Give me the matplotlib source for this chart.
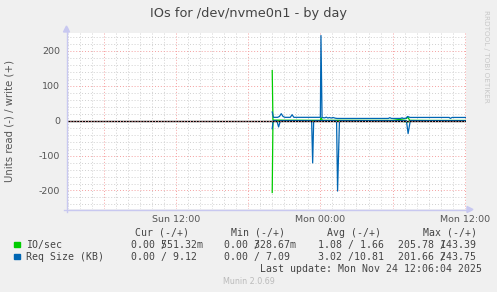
import matplotlib
matplotlib.use('Agg')
import matplotlib.pyplot as plt
from matplotlib.patches import Rectangle, Polygon
from matplotlib.lines import Line2D

W, H = 497, 292

title = "IOs for /dev/nvme0n1 - by day"
ylabel = "Units read (-) / write (+)"
xtick_pos = [-12, 0, 12]
xtick_labels = ["Sun 12:00", "Mon 00:00", "Mon 12:00"]
ytick_pos = [-200, -100, 0, 100, 200]
ytick_labels = ["-200", "-100", "0", "100", "200"]

# time in hours relative to Mon 00:00
io_t = [-4.00, -3.94, -3.85, -3.5, -3.0, -2.0, -1.0, 0.0, 0.06, 0.16, 1.0,
        2.0, 4.0, 6.0, 7.15, 7.27, 7.42, 9.0, 11.0, 12.1]
io_write = [143.39, 2.0, 1.5, 1.5, 1.2, 1.2, 1.0, 1.0, 9.0, 1.0, 1.0,
            1.0, 0.8, 0.8, 6.0, 10.0, 1.0, 0.6, 0.6, 0.55]
io_read = [205.78, 3.0, 1.0, 1.0, 0.5, 0.5, 0.3, 0.3, 2.0, 0.3, 0.3,
           0.2, 0.1, 0.1, 3.0, 4.0, 0.1, 0.0, 0.0, 0.0]

rs_write_t = [-4.00, -3.90, -3.55, -3.40, -3.25, -3.10, -2.95, -2.50, -2.35,
              -2.20, -0.60, 0.00, 0.05, 0.14, 0.35, 0.50, 0.62, 0.75, 0.90,
              1.05, 1.25, 1.40, 5.65, 5.77, 5.90, 6.65, 6.79, 6.92, 7.10,
              7.25, 7.45, 10.7, 10.8, 10.95, 12.1]
rs_write = [24.8, 9.5, 9.5, 12.0, 20.0, 12.0, 9.5, 9.5, 17.0,
            9.5, 9.5, 9.5, 243.75, 9.0, 8.0, 10.0, 7.5, 9.0, 7.5,
            9.0, 7.0, 6.3, 6.3, 8.5, 6.3, 6.3, 8.0, 6.3, 7.0,
            12.0, 9.2, 9.2, 6.5, 9.2, 9.12]
rs_read_t = [-4.00, -3.92, -3.62, -3.47, -3.32, -0.73, -0.72, -0.64, -0.56,
             -0.55, 1.34, 1.35, 1.43, 1.58, 1.59, 7.15, 7.29, 7.47, 12.1]
rs_read = [23.0, 0.0, 0.0, 18.0, 0.0, 0.0, 8.0, 121.0, 8.0,
           0.0, 0.0, 8.0, 201.66, 8.0, 0.0, 0.0, 37.0, 0.0, 0.0]

legend_names = ["IO/sec", "Req Size (KB)"]
legend_colors = ["#00CC00", "#0066B3"]
col_headers = ["Cur (-/+)", "Min (-/+)", "Avg (-/+)", "Max (-/+)"]
row_io = [("0.00 /", "     551.32m"), ("0.00 /", "     328.67m"),
          ("1.08 / 1.66", ""), ("205.78 /", "       143.39")]
row_rs = [("0.00 / 9.12", ""), ("0.00 / 7.09", ""),
          ("3.02 /10.81", ""), ("201.66 /", "       243.75")]
last_update = "Last update: Mon Nov 24 12:06:04 2025"
munin_ver = "Munin 2.0.69"
rrd_credit = "RRDTOOL / TOBI OETIKER"


def fx(x):
    return x / W


def fy(y):
    return 1 - y / H


fig = plt.figure(figsize=(W / 100, H / 100), dpi=100, facecolor="#F0F0F0")
L, R, T, B = 67, 466, 33, 209
ax = fig.add_axes([fx(L), fy(B), (R - L) / W, (B - T) / H])
ax.set_facecolor("white")
ax.set_xlim(-21.05, 12.1)
ax.set_ylim(-253, 251)

# grid
grey = "#D0D0D0"
red = "#F5A0A0"
dot = (0, (1, 2))
for h in range(-21, 13):
    if h % 6 != 0:
        ax.axvline(h, color=grey, lw=0.7, ls=dot, zorder=1)
for v in range(-240, 260, 20):
    if v % 100 != 0:
        ax.axhline(v, color=grey, lw=0.7, ls=dot, zorder=1)
for h in range(-18, 13, 6):
    ax.axvline(h, color=red, lw=0.7, ls=dot, zorder=2)
for v in ytick_pos:
    if v != 0:
        ax.axhline(v, color=red, lw=0.7, ls=dot, zorder=2)

ax.plot(io_t, io_write, color=legend_colors[0], lw=0.9, zorder=4)
ax.plot(io_t, [-v for v in io_read], color=legend_colors[0], lw=0.9, zorder=4)
ax.plot(rs_write_t, rs_write, color=legend_colors[1], lw=0.9, zorder=5)
ax.plot(rs_read_t, [-v for v in rs_read], color=legend_colors[1], lw=0.9, zorder=5)

ax.axhline(0, color="black", lw=1.0, zorder=6)
ax.axhline(0, color=red, lw=0.7, ls=dot, zorder=7)

ax.set_xticks(xtick_pos)
ax.set_xticklabels(xtick_labels)
ax.set_yticks(ytick_pos)
ax.set_yticklabels(ytick_labels)
ax.tick_params(axis="both", length=0, labelsize=6.8, labelcolor="#555555")
ax.tick_params(axis="x", pad=4)
ax.tick_params(axis="y", pad=5)
for s in ax.spines.values():
    s.set_visible(False)

# axis lines with arrows
acol = "#C8C8F0"
fig.add_artist(Line2D([fx(L - 0.5), fx(L - 0.5)], [fy(B + 3), fy(28)], color=acol, lw=1))
fig.add_artist(Line2D([fx(L - 3), fx(470)], [fy(B + 0.5), fy(B + 0.5)], color=acol, lw=1))
fig.add_artist(Polygon([[fx(L - 3.5), fy(32)], [fx(L + 2.5), fy(32)], [fx(L - 0.5), fy(26)]],
                       closed=True, color=acol, transform=fig.transFigure))
fig.add_artist(Polygon([[fx(467), fy(B - 2.5)], [fx(467), fy(B + 3.5)], [fx(473), fy(B + 0.5)]],
                       closed=True, color=acol, transform=fig.transFigure))

fig.text(fx(248.5), fy(13), title, ha="center", va="center", fontsize=9.3, color="#444444")
fig.text(fx(10), fy(121), ylabel, ha="center", va="center", rotation=90, fontsize=7.3,
         color="#555555")
fig.text(fx(486), fy(56), rrd_credit, ha="center", va="center", rotation=270, fontsize=5.2,
         color="#C8C8C8")

mono = dict(family="DejaVu Sans Mono", fontsize=7.15, color="#444444", va="center", ha="left")
header_x = [135, 230.7, 326.7, 422.7]
value_x = [131, 224.3, 317.8, 398.3]
for hx, txt in zip(header_x, col_headers):
    fig.text(fx(hx), fy(232.7), txt, **mono)
for row_y, name, color, row in [(244.7, legend_names[0], legend_colors[0], row_io),
                                (256.7, legend_names[1], legend_colors[1], row_rs)]:
    fig.add_artist(Rectangle((fx(14), fy(row_y + 2.7)), 5.5 / W, 5.5 / H, color=color,
                             transform=fig.transFigure))
    fig.text(fx(26), fy(row_y), name, **mono)
    for vx, (a, b) in zip(value_x, row):
        fig.text(fx(vx), fy(row_y), a, **mono)
        if b:
            fig.text(fx(vx), fy(row_y), b, **mono)
fig.text(fx(482.5), fy(268.7), last_update, **{**mono, "ha": "right"})
fig.text(fx(248.5), fy(281), munin_ver, ha="center", va="center", fontsize=5.8, color="#BBBBBB")

fig.savefig("out.png", dpi=100, facecolor=fig.get_facecolor())
